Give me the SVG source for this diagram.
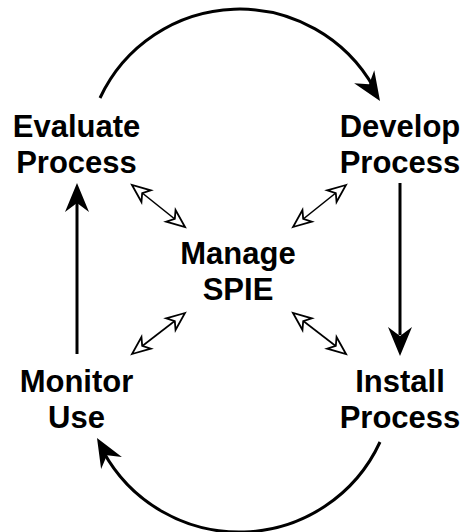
<svg xmlns="http://www.w3.org/2000/svg" width="465" height="532" viewBox="0 0 465 532">
  <style>
    .lbl { font-family: "Liberation Sans", Arial, sans-serif; font-weight: bold; font-size: 31px; fill: #000; text-anchor: middle; }
    .main { fill: none; stroke: #000; stroke-width: 3; }
    .thin { fill: none; stroke: #000; stroke-width: 1.6; }
    .head { fill: #000; stroke: none; }
    .ohead { fill: #fff; stroke: #000; stroke-width: 1.8; stroke-linejoin: miter; }
  </style>
  <defs>
    <path id="bighead" class="head" d="M0,0 L-29,-12 L-20,0 L-29,12 Z"/>
    <path id="smallhead" class="ohead" d="M0,0 L-18,-7.5 L-13,0 L-18,7.5 Z"/>
  </defs>
  <rect width="465" height="532" fill="#fff"/>

  <g id="connectors">
    <!-- top arc: Evaluate -> Develop -->
    <path class="main" d="M100,98 A154,154 0 0,1 374,88"/>
    <use href="#bighead" transform="translate(380,101) rotate(57)"/>
    <!-- right vertical: Develop -> Install -->
    <line class="main" x1="400" y1="183" x2="400" y2="335"/>
    <use href="#bighead" transform="translate(400,356) rotate(90)"/>
    <!-- bottom arc: Install -> Monitor -->
    <path class="main" d="M380,442 A155,155 0 0,1 103,451"/>
    <use href="#bighead" transform="translate(97,438) rotate(-120)"/>
    <!-- left vertical: Monitor -> Evaluate -->
    <line class="main" x1="77" y1="354" x2="77" y2="203"/>
    <use href="#bighead" transform="translate(77,183) rotate(-90)"/>

    <!-- double arrows to/from Manage SPIE -->
    <line class="thin" x1="141" y1="192" x2="176" y2="220"/>
    <use href="#smallhead" transform="translate(185,227) rotate(38.4)"/>
    <use href="#smallhead" transform="translate(132,185) rotate(218.4)"/>

    <line class="thin" x1="337" y1="192" x2="302" y2="220"/>
    <use href="#smallhead" transform="translate(293,227) rotate(141.6)"/>
    <use href="#smallhead" transform="translate(346,185) rotate(-38.4)"/>

    <line class="thin" x1="176" y1="320" x2="141" y2="347"/>
    <use href="#smallhead" transform="translate(132,354) rotate(141.6)"/>
    <use href="#smallhead" transform="translate(185,313) rotate(-38.4)"/>

    <line class="thin" x1="302" y1="320" x2="337" y2="347"/>
    <use href="#smallhead" transform="translate(346,354) rotate(38.4)"/>
    <use href="#smallhead" transform="translate(293,313) rotate(218.4)"/>
  </g>

  <g id="evaluate">
    <text class="lbl" x="76.5" y="137">Evaluate</text>
    <text class="lbl" x="76.5" y="173">Process</text>
  </g>
  <g id="develop">
    <text class="lbl" x="400" y="137">Develop</text>
    <text class="lbl" x="400" y="173">Process</text>
  </g>
  <g id="manage">
    <text class="lbl" x="238" y="264">Manage</text>
    <text class="lbl" x="238" y="300">SPIE</text>
  </g>
  <g id="monitor">
    <text class="lbl" x="76.5" y="392">Monitor</text>
    <text class="lbl" x="76.5" y="428">Use</text>
  </g>
  <g id="install">
    <text class="lbl" x="400" y="392">Install</text>
    <text class="lbl" x="400" y="428">Process</text>
  </g>
</svg>
